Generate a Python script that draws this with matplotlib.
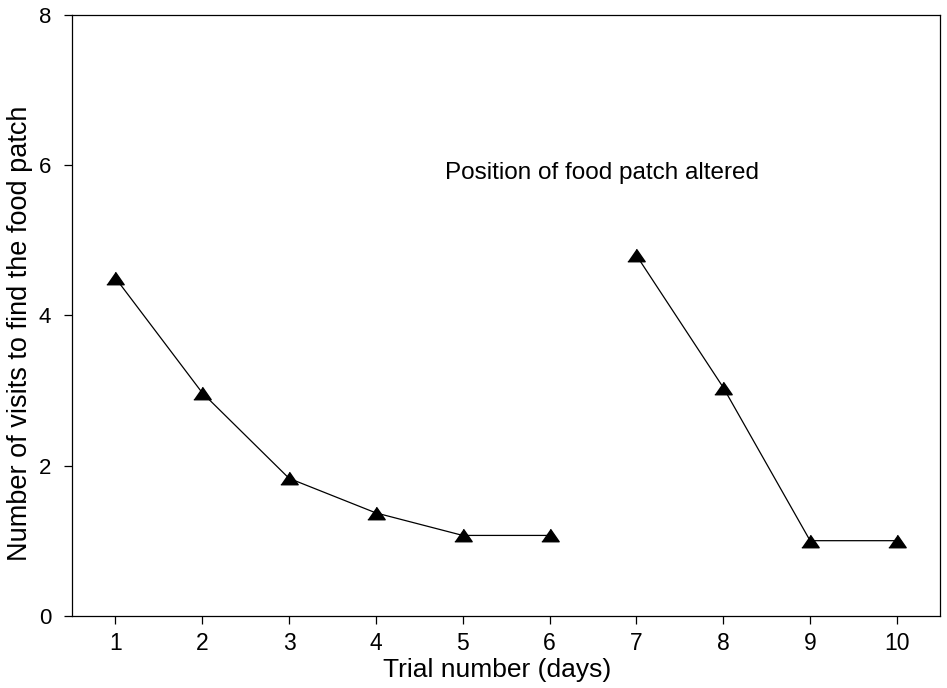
import matplotlib
matplotlib.use("Agg")
import matplotlib.pyplot as plt

plt.rcParams['font.family'] = ['Liberation Sans', 'DejaVu Sans']

# first set of trials (days 1-6)
days_a = [1, 2, 3, 4, 5, 6]
visits_a = [4.5, 2.97, 1.83, 1.37, 1.07, 1.07]
# after the food patch was moved (days 7-10)
days_b = [7, 8, 9, 10]
visits_b = [4.8, 3.04, 1.0, 1.0]

xticks = [1, 2, 3, 4, 5, 6, 7, 8, 9, 10]
yticks = [0, 2, 4, 6, 8]

tri = [(-1, -0.72), (1, -0.72), (0, 0.72)]

fig = plt.figure(figsize=(9.47, 6.88), dpi=100)
ax = fig.add_axes([0.076, 0.105, 0.917, 0.873])

for xs, ys in [(days_a, visits_a), (days_b, visits_b)]:
    ax.plot(xs, ys, color='black', linewidth=0.9, marker=tri,
            markersize=12.5, markerfacecolor='black', markeredgecolor='black')

ax.set_xlim(0.5, 10.5)
ax.set_ylim(0, 8)
ax.set_xticks(xticks)
ax.set_yticks(yticks)
ax.set_xticklabels([str(t) for t in xticks], fontsize=16.5)
ax.set_yticklabels([str(t) for t in yticks], fontsize=16)
ax.tick_params(axis='x', direction='out', length=6, width=0.9, pad=6)
ax.tick_params(axis='y', direction='out', length=6, width=0.9, pad=9)
for s in ax.spines.values():
    s.set_linewidth(0.9)

ax.set_xlabel('Trial number (days)', fontsize=19)
ax.set_ylabel('Number of visits to find the food patch', fontsize=19.5)
ax.xaxis.set_label_coords(0.49, -0.07)
ax.yaxis.set_label_coords(-0.045, 0.47)

ax.text(4.8, 5.9, 'Position of food patch altered', fontsize=17.5,
        ha='left', va='center')

fig.savefig('out.png', dpi=100)
